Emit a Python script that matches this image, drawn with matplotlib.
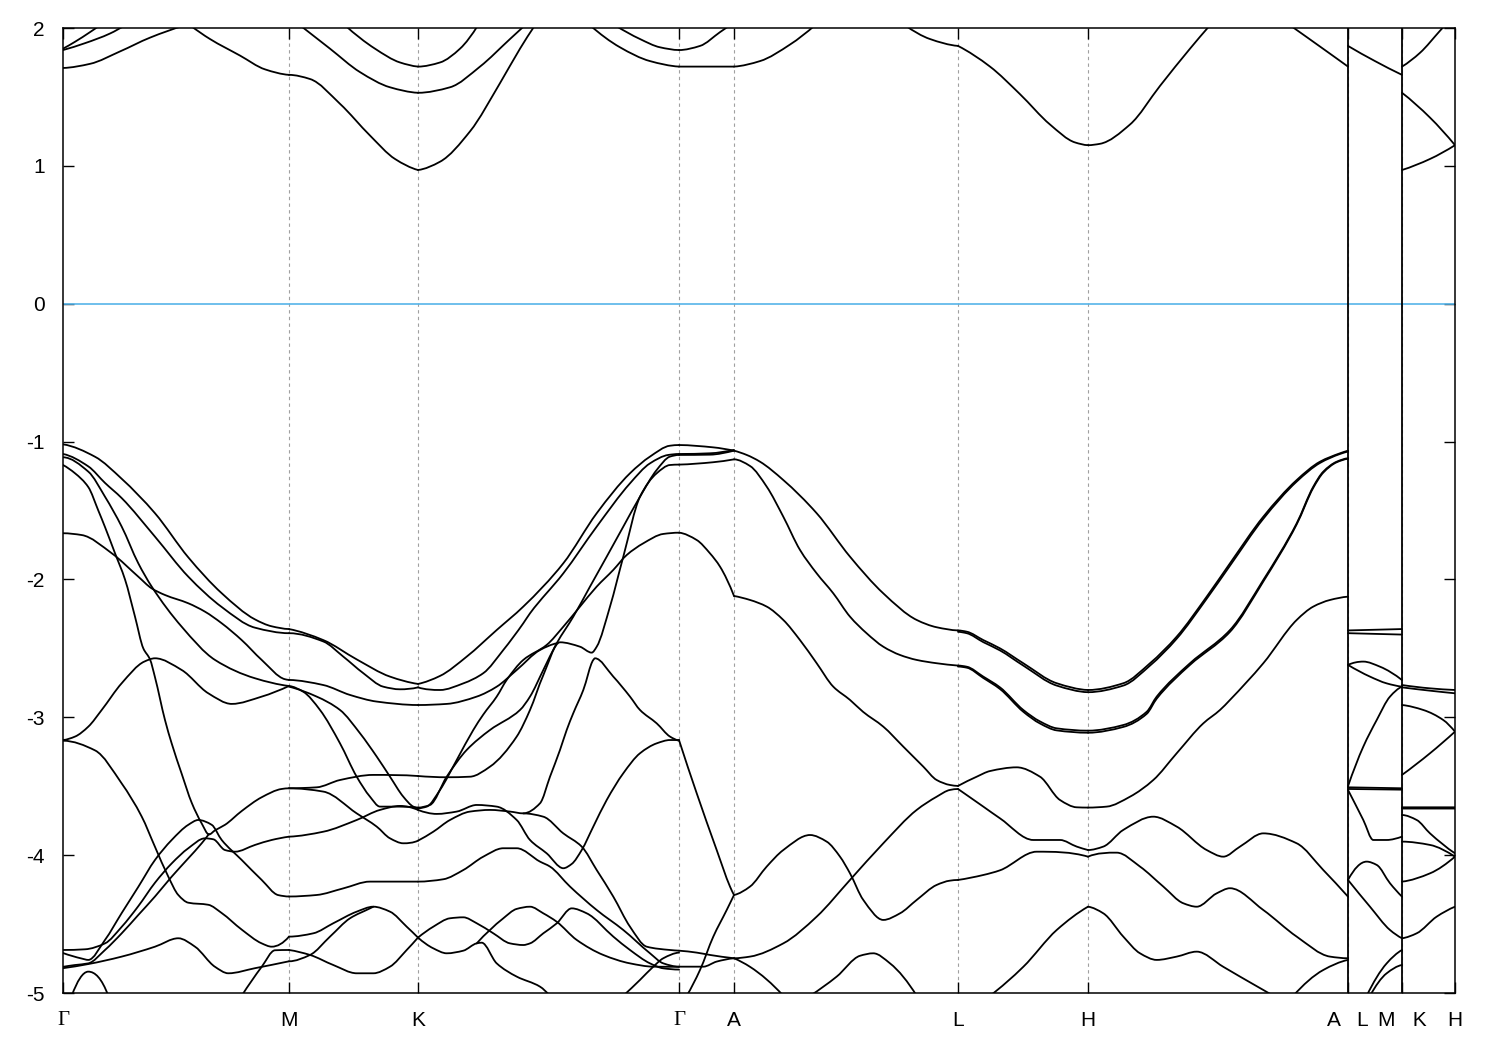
import numpy as np
import matplotlib
matplotlib.use("Agg")
import matplotlib.pyplot as plt
from matplotlib.path import Path
from matplotlib.patches import PathPatch

# ---------------- axis data ----------------
tick_k = [0, 226, 355, 616, 671, 895, 1025, 1285, 1339, 1392]
tick_labels = ["Γ", "M", "K", "Γ", "A", "L", "H", "A   L", "M   K", "H"]
jump_k = [1285, 1339]
e_ticks = [-5, -4, -3, -2, -1, 0, 1, 2]
e_tick_labels = ["-5", "-4", "-3", "-2", "-1", "0", "1", "2"]
fermi_level = 0.0

# ---------------- conduction bands (k, E) ----------------
c01 = [(0, 1.85), (12, 1.90), (27, 1.97), (37, 2.02)]
c02 = [(0, 1.84), (22, 1.89), (47, 1.96), (62, 2.02)]
c03 = [(0, 1.71), (27, 1.74), (57, 1.83), (87, 1.93), (122, 2.02)]
c04 = [(127, 2.02), (147, 1.92), (177, 1.80), (202, 1.70), (226, 1.66), (247, 1.63),
       (277, 1.45), (307, 1.22), (332, 1.05), (355, 0.97), (377, 1.03), (407, 1.25),
       (437, 1.60), (457, 1.85), (472, 2.02)]
c05 = [(237, 2.02), (267, 1.85), (297, 1.68), (327, 1.57), (355, 1.53), (387, 1.57),
       (417, 1.72), (447, 1.92), (462, 2.02)]
c06 = [(282, 2.02), (312, 1.85), (337, 1.75), (355, 1.72), (377, 1.75), (397, 1.85), (415, 2.02)]
c07 = [(527, 2.02), (557, 1.86), (587, 1.76), (616, 1.72), (671, 1.72), (697, 1.76),
       (727, 1.88), (752, 2.02)]
c08 = [(552, 2.02), (577, 1.92), (597, 1.86), (616, 1.84), (637, 1.87), (657, 1.97), (667, 2.02)]
c09 = [(842, 2.02), (867, 1.92), (895, 1.87), (927, 1.72), (957, 1.52), (987, 1.30),
       (1012, 1.17), (1025, 1.15), (1037, 1.16), (1067, 1.30), (1097, 1.58), (1127, 1.85),
       (1147, 2.02)]
c10 = [(1227, 2.02), (1260, 1.85), (1285, 1.72)]
c11 = [(1285, 1.87), (1312, 1.76), (1339, 1.66)]
c12 = [(1339, 0.97), (1367, 1.05), (1392, 1.15)]
c13 = [(1339, 1.53), (1367, 1.35), (1392, 1.15)]
c14 = [(1339, 1.72), (1357, 1.82), (1377, 1.98), (1382, 2.02)]

# ---------------- valence bands (k, E) ----------------
v01 = [(0, -1.02), (32, -1.11), (58.7, -1.27), (92, -1.52), (125.3, -1.84), (158.7, -2.10),
       (192, -2.29), (208.7, -2.34), (226, -2.36), (260.3, -2.44), (293.7, -2.58),
       (327, -2.705), (355, -2.758), (377, -2.70), (403.7, -2.56), (433.7, -2.367),
       (460.3, -2.197), (500.3, -1.883), (533.7, -1.52), (567, -1.23), (587, -1.109),
       (607, -1.03), (616, -1.025), (650.3, -1.042), (671, -1.066), (683.7, -1.097),
       (697, -1.146), (720.3, -1.279), (753.7, -1.52), (787, -1.835), (820.3, -2.101),
       (853.7, -2.294), (873.7, -2.347), (895, -2.37), (903.7, -2.379), (920.3, -2.44),
       (937, -2.50), (960.3, -2.608), (993.7, -2.753), (1025, -2.802), (1060.3, -2.753),
       (1087, -2.608), (1113.7, -2.415), (1143.7, -2.125), (1167, -1.883), (1200.3, -1.545),
       (1233.7, -1.279), (1257, -1.146), (1277, -1.085), (1285, -1.066)]
v01b = [(895, -2.38), (903.7, -2.39), (920.3, -2.455), (937, -2.515), (960.3, -2.625),
        (993.7, -2.77), (1025, -2.818), (1060.3, -2.77), (1087, -2.625), (1113.7, -2.43),
        (1143.7, -2.14), (1167, -1.90), (1200.3, -1.56), (1233.7, -1.29), (1257, -1.155),
        (1277, -1.09), (1285, -1.072)]
v02 = [(0, -1.09), (25.3, -1.18), (42, -1.30), (58.7, -1.41), (92, -1.69), (125.3, -1.98),
       (158.7, -2.20), (192, -2.35), (226, -2.39), (260.3, -2.45), (280.3, -2.56),
       (300.3, -2.68), (320.3, -2.778), (337, -2.797), (355, -2.783), (377, -2.802),
       (400.3, -2.754), (420.3, -2.68), (440.3, -2.512), (460.3, -2.318), (467, -2.246),
       (500.3, -1.956), (533.7, -1.617), (567, -1.303), (587, -1.158), (605.3, -1.097),
       (616, -1.09), (647, -1.085), (671, -1.061)]
v03 = [(0, -1.114), (25.3, -1.218), (42, -1.40), (58.7, -1.617), (75.3, -1.883),
       (88.7, -2.052), (118.7, -2.343), (152, -2.584), (192, -2.717), (226, -2.773),
       (240.3, -2.815), (257, -2.947), (277, -3.189), (293.7, -3.431), (307, -3.576),
       (317, -3.648), (337, -3.648), (355, -3.655), (367, -3.636), (383.7, -3.431),
       (403.7, -3.237), (427, -3.092), (457, -2.947), (467, -2.85), (480.3, -2.657),
       (493.7, -2.463), (510.3, -2.27), (527, -2.052), (543.7, -1.835), (560.3, -1.617),
       (577, -1.40), (593.7, -1.206), (607, -1.109), (616, -1.097), (647, -1.095), (671, -1.066)]
v04 = [(0, -1.17), (12, -1.23), (25.3, -1.33), (35.3, -1.50), (42, -1.62), (52, -1.81),
       (62, -2.00), (72, -2.27), (80.3, -2.50), (87, -2.58), (92, -2.71), (102, -3.02),
       (108.7, -3.19), (118.7, -3.41), (128.7, -3.62), (138.7, -3.77), (146, -3.85),
       (152, -3.82), (162, -3.78), (178.7, -3.68), (198.7, -3.58), (218.7, -3.52),
       (226, -3.515), (253.7, -3.508), (277, -3.455), (310.3, -3.418), (355, -3.426),
       (383.7, -3.435), (407, -3.431), (427, -3.358), (453.7, -3.14), (467, -2.947),
       (480, -2.70), (497, -2.456), (517, -2.488), (528.7, -2.531), (533.7, -2.488),
       (547, -2.197), (560.3, -1.835), (577, -1.40), (593.7, -1.23), (607, -1.17),
       (616, -1.167), (650, -1.15), (671, -1.129), (687, -1.177), (703.7, -1.327),
       (720.3, -1.545), (737, -1.786), (753.7, -1.956), (770.3, -2.101), (787, -2.27),
       (803.7, -2.391), (820.3, -2.488), (837, -2.548), (853.7, -2.584), (873.7, -2.608),
       (895, -2.625), (903.7, -2.633), (920.3, -2.705), (937, -2.783), (960.3, -2.947),
       (977, -3.03), (993.7, -3.08), (1025, -3.097), (1060.3, -3.056), (1083.7, -2.96),
       (1093.7, -2.85), (1127, -2.608), (1167, -2.367), (1200.3, -2.004), (1233.7, -1.593),
       (1250.3, -1.327), (1260.3, -1.218), (1273.7, -1.146), (1285, -1.121)]
v04b = [(895, -2.632), (903.7, -2.64), (920.3, -2.715), (937, -2.795), (960.3, -2.96),
        (977, -3.045), (993.7, -3.095), (1025, -3.112), (1060.3, -3.07), (1083.7, -2.975),
        (1093.7, -2.865), (1127, -2.62), (1167, -2.38), (1200.3, -2.015), (1233.7, -1.60),
        (1250.3, -1.335), (1260.3, -1.225), (1273.7, -1.15), (1285, -1.125)]
v05 = [(0, -1.665), (18.7, -1.678), (48.7, -1.81), (75.3, -1.98), (88.7, -2.065),
       (102, -2.113), (125.3, -2.173), (142, -2.234), (158.7, -2.318), (178.7, -2.44),
       (198.7, -2.584), (222, -2.724), (226, -2.729), (260.3, -2.766), (287, -2.838),
       (313.7, -2.886), (355, -2.911), (383.7, -2.903), (413.7, -2.85), (433.7, -2.778),
       (453.7, -2.657), (477, -2.512), (493.7, -2.463)]
v06 = [(226, -2.778), (253.7, -2.85), (277, -2.947), (297, -3.116), (313.7, -3.285),
       (327, -3.431), (340.3, -3.576), (350.3, -3.648), (355, -3.66), (363.7, -3.648),
       (377, -3.527), (393.7, -3.31), (410.3, -3.092), (420.3, -2.98), (433.7, -2.85),
       (443.7, -2.729), (460.3, -2.584), (483.7, -2.475), (500.3, -2.343), (517, -2.197),
       (533.7, -2.052), (550.3, -1.931), (563.7, -1.823), (580.3, -1.738), (600.3, -1.670),
       (616, -1.661), (633.7, -1.714), (647, -1.811), (657, -1.907), (671, -2.12),
       (687, -2.149), (703.7, -2.197), (720.3, -2.294), (737, -2.44), (753.7, -2.608),
       (770.3, -2.778), (787, -2.874), (800, -2.96), (820.3, -3.068), (840.3, -3.213),
       (860.3, -3.358), (873.7, -3.455), (887, -3.491), (895, -3.498), (913.7, -3.431),
       (927, -3.39), (953.7, -3.363), (977, -3.431), (997, -3.60), (1013.7, -3.653),
       (1025, -3.655), (1043.7, -3.648), (1067, -3.576), (1090.3, -3.455), (1113.7, -3.261),
       (1140.3, -3.044), (1157, -2.947), (1167, -2.874), (1200.3, -2.608), (1233.7, -2.294),
       (1250.3, -2.197), (1267, -2.149), (1285, -2.125)]
v07 = [(0, -3.165), (12, -3.14), (25.3, -3.068), (38.7, -2.947), (58.7, -2.753),
       (81.3, -2.596), (92, -2.572), (118.7, -2.657), (145.3, -2.826), (168.7, -2.903),
       (198.7, -2.85), (226, -2.773)]
v08 = [(0, -3.17), (32, -3.24), (58.7, -3.48), (78.7, -3.72), (92, -3.94), (105.3, -4.156),
       (115.3, -4.289), (125.3, -4.345), (145.3, -4.36), (158.7, -4.42), (178.7, -4.54),
       (198.7, -4.64), (208.7, -4.664), (226, -4.591), (250.3, -4.567), (270.3, -4.494),
       (293.7, -4.41), (310.3, -4.374), (327, -4.41), (343.7, -4.519), (355, -4.598),
       (370.3, -4.676), (383.7, -4.712), (400.3, -4.693), (413.7, -4.64), (418.7, -4.635),
       (433.7, -4.785), (453.7, -4.881), (477, -4.954), (487, -5.02)]
v09 = [(0, -4.71), (18.7, -4.75), (25.3, -4.76), (42, -4.615), (58.7, -4.42), (75.3, -4.23),
       (92, -4.035), (108.7, -3.89), (125.3, -3.78), (135.3, -3.745), (148.7, -3.78),
       (158.7, -3.89), (178.7, -4.035), (198.7, -4.18), (215.3, -4.29), (226, -4.30),
       (253.7, -4.289), (280.3, -4.241), (307, -4.192), (337, -4.192), (355, -4.192),
       (380.3, -4.175), (400.3, -4.108), (420.3, -4.011), (440.3, -3.95), (453.7, -3.95),
       (477, -4.047), (487, -4.083), (507, -4.228), (533.7, -4.398), (560.3, -4.543),
       (587, -4.712), (600.3, -4.785), (616, -4.809), (640.3, -4.809), (653.7, -4.772),
       (671, -4.748), (687, -4.81), (720.3, -5.02)]
v10 = [(0, -4.688), (22, -4.683), (42, -4.64), (58.7, -4.52), (75.3, -4.37), (92, -4.20),
       (108.7, -4.06), (125.3, -3.95), (142, -3.878), (150.3, -3.885), (162, -3.963),
       (172, -3.975), (192, -3.926), (208.7, -3.89), (226, -3.866), (260.3, -3.83),
       (293.7, -3.745), (317, -3.672), (337, -3.643), (355, -3.672), (373.7, -3.701),
       (393.7, -3.684), (413.7, -3.636), (433.7, -3.648), (453.7, -3.745), (467, -3.89),
       (483.7, -3.987), (500.3, -4.095), (508.7, -4.064), (518.7, -3.963), (530.3, -3.793),
       (543.7, -3.60), (560.3, -3.406), (577, -3.261), (593.7, -3.189), (607, -3.165),
       (616, -3.165), (633.7, -3.551), (653.7, -3.963), (667, -4.228), (671, -4.289),
       (687, -4.228), (703.7, -4.083), (720.3, -3.963), (747, -3.854), (763.7, -3.902),
       (777, -4.011), (787, -4.132), (800.3, -4.325), (820.3, -4.47), (837, -4.422),
       (853.7, -4.325), (873.7, -4.216), (887, -4.185), (895, -4.18), (920.3, -4.144),
       (937, -4.11), (973.7, -3.975), (1025, -4.011), (1053.7, -3.982), (1077, -4.083),
       (1100.3, -4.228), (1120.3, -4.349), (1133.7, -4.374), (1153.7, -4.277), (1167, -4.24),
       (1200.3, -4.398), (1233.7, -4.591), (1267, -4.736), (1285, -4.748)]
v11 = [(0, -4.81), (12, -4.797), (25.3, -4.785), (42, -4.688), (58.7, -4.567), (75.3, -4.434),
       (92, -4.30), (108.7, -4.156), (125.3, -4.023), (138.7, -3.914), (146, -3.846)]
v12 = [(0, -4.82), (25.3, -4.79), (58.7, -4.736), (92, -4.664), (115.3, -4.603), (132, -4.664),
       (152, -4.81), (165.3, -4.857), (192, -4.82), (226, -4.77), (247, -4.724), (267, -4.591),
       (287, -4.458), (307, -4.386), (310.3, -4.374)]
v13 = [(8.7, -5.02), (25.3, -4.845), (45.3, -5.02)]
v14 = [(178.7, -5.02), (198.7, -4.81), (212, -4.69), (226, -4.688), (247, -4.724),
       (270.3, -4.797), (293.7, -4.857), (310.3, -4.857), (327, -4.809), (343.7, -4.688),
       (355, -4.598), (370.3, -4.519), (387, -4.458), (400.3, -4.451), (413.7, -4.494),
       (430.3, -4.567), (447, -4.64), (460.3, -4.652), (467, -4.64), (480.3, -4.567),
       (493.7, -4.495), (508.7, -4.386), (523.7, -4.422), (550.3, -4.591), (567, -4.688),
       (587, -4.785), (600.3, -4.821), (616, -4.83)]
v15 = [(226, -3.515), (260.3, -3.539), (293.7, -3.697), (313.7, -3.793), (327, -3.878),
       (340.3, -3.914), (355, -3.895), (370.3, -3.83), (387, -3.745), (407, -3.684),
       (427, -3.672), (447, -3.684), (460.3, -3.697), (477, -3.624), (487, -3.431),
       (497, -3.237), (503.7, -3.092), (510.3, -2.97), (520.3, -2.802), (530.3, -2.584),
       (532, -2.572), (550.3, -2.705), (567, -2.85), (577, -2.947), (593.7, -3.044),
       (607, -3.14), (616, -3.17)]
v16 = [(460.3, -3.697), (480.3, -3.721), (500.3, -3.842), (518.7, -3.938), (533.7, -4.108),
       (550.3, -4.301), (567, -4.519), (583.7, -4.664), (607, -4.688), (616, -4.693),
       (633.7, -4.707), (647, -4.724), (671, -4.748), (687, -4.736), (720.3, -4.64),
       (753.7, -4.446), (787, -4.18), (820.3, -3.914), (853.7, -3.672), (873.7, -3.576),
       (887, -3.527), (895, -3.52), (920.3, -3.648), (937, -3.733), (970.3, -3.89),
       (997, -3.89), (1013.7, -3.938), (1025, -3.963), (1040.3, -3.938), (1060.3, -3.817),
       (1090.3, -3.721), (1113.7, -3.793), (1143.7, -3.963), (1160.3, -4.011), (1177, -3.938),
       (1200.3, -3.842), (1233.7, -3.914), (1260.3, -4.108), (1285, -4.301)]
v17 = [(560.3, -5.02), (577, -4.905), (590.3, -4.809), (600.3, -4.748), (616, -4.707)]
v18 = [(623.7, -5.02), (637, -4.833), (650.3, -4.591), (663.7, -4.398), (671, -4.289)]
v19 = [(747, -5.02), (773.7, -4.881), (797, -4.73), (810.3, -4.712), (827, -4.785), (853.7, -5.02)]
v20 = [(927, -5.02), (960.3, -4.81), (993.7, -4.543), (1025, -4.374), (1040.3, -4.422),
       (1060.3, -4.591), (1077, -4.712), (1093.7, -4.76), (1113.7, -4.736), (1133.7, -4.70),
       (1160.3, -4.81), (1177, -4.881), (1200.3, -4.978), (1210.3, -5.02)]
v21 = [(1230.3, -5.02), (1260.3, -4.833), (1285, -4.76)]
v22 = [(413.7, -4.64), (440, -4.46), (453.7, -4.39), (467, -4.374), (480.3, -4.422),
       (493.7, -4.483), (513.7, -4.615), (540.3, -4.724), (567, -4.785), (590.3, -4.809),
       (616, -4.81)]

# L-M segment
lm01 = [(1285, -2.37), (1339, -2.36)]
lm02 = [(1285, -2.39), (1339, -2.40)]
lm03 = [(1285, -2.62), (1300.3, -2.596), (1317, -2.633), (1339, -2.73)]
lm04 = [(1285, -2.62), (1307, -2.705), (1323.7, -2.754), (1339, -2.778)]
lm05 = [(1285, -3.50), (1300.3, -3.213), (1313.7, -3.02), (1327, -2.85), (1339, -2.778)]
lm06 = [(1285, -3.508), (1339, -3.515)]
lm07 = [(1285, -3.52), (1339, -3.525)]
lm08 = [(1285, -3.527), (1300.3, -3.745), (1310.3, -3.89), (1323.7, -3.89), (1339, -3.866)]
lm09 = [(1285, -4.18), (1303.7, -4.047), (1313.7, -4.071), (1327, -4.204), (1339, -4.301)]
lm10 = [(1285, -4.18), (1307, -4.374), (1327, -4.543), (1339, -4.603)]
lm11 = [(1303.7, -5.02), (1323.7, -4.785), (1339, -4.688)]
lm12 = [(1307, -5.02), (1323.7, -4.857), (1339, -4.797)]

# K-H segment
kh01 = [(1339, -2.766), (1367, -2.79), (1392, -2.802)]
kh02 = [(1339, -2.783), (1367, -2.807), (1392, -2.826)]
kh03 = [(1339, -2.911), (1360.3, -2.947), (1380.3, -3.02), (1392, -3.104)]
kh04 = [(1339, -3.418), (1367, -3.261), (1392, -3.104)]
kh05 = [(1339, -3.653), (1392, -3.653)]
kh06 = [(1339, -3.662), (1392, -3.662)]
kh07 = [(1339, -3.709), (1353.7, -3.745), (1367, -3.842), (1392, -3.987)]
kh08 = [(1339, -3.902), (1367, -3.926), (1392, -4.011)]
kh09 = [(1339, -4.192), (1367, -4.132), (1392, -4.011)]
kh10 = [(1339, -4.603), (1353.7, -4.567), (1373.7, -4.446), (1392, -4.374)]

curves = [c01, c02, c03, c04, c05, c06, c07, c08, c09, c10, c11, c12, c13, c14,
          v01, v01b, v02, v03, v04, v04b, v05, v06, v07, v08, v09, v10, v11, v12, v13,
          v14, v15, v16, v17, v18, v19, v20, v21, v22,
          lm01, lm02, lm03, lm04, lm05, lm06, lm07, lm08, lm09, lm10, lm11, lm12,
          kh01, kh02, kh03, kh04, kh05, kh06, kh07, kh08, kh09, kh10]


# ---------------- smooth rendering helpers ----------------
def pchip_slopes(x, y):
    n = len(x)
    h = np.diff(x)
    d = np.diff(y) / h
    m = np.zeros(n)
    if n == 2:
        m[:] = d[0]
        return m
    for i in range(1, n - 1):
        if d[i - 1] * d[i] <= 0:
            m[i] = 0.0
        else:
            w1 = 2 * h[i] + h[i - 1]
            w2 = h[i] + 2 * h[i - 1]
            m[i] = (w1 + w2) / (w1 / d[i - 1] + w2 / d[i])

    def edge(h0, h1, d0, d1):
        s = ((2 * h0 + h1) * d0 - h0 * d1) / (h0 + h1)
        if np.sign(s) != np.sign(d0):
            s = 0.0
        elif np.sign(d0) != np.sign(d1) and abs(s) > abs(3 * d0):
            s = 3 * d0
        return s

    m[0] = edge(h[0], h[1], d[0], d[1])
    m[-1] = edge(h[-1], h[-2], d[-1], d[-2])
    return m


def split_at_symmetry_points(pts):
    pieces, cur = [], [pts[0]]
    for p in pts[1:]:
        cur.append(p)
        if any(abs(p[0] - t) < 0.5 for t in tick_k[1:-1]) and p is not pts[-1]:
            pieces.append(cur)
            cur = [p]
    if len(cur) > 1:
        pieces.append(cur)
    return pieces


def smooth_path(pts):
    x = np.array([p[0] for p in pts], float)
    y = np.array([p[1] for p in pts], float)
    m = pchip_slopes(x, y)
    verts = [(x[0], y[0])]
    codes = [Path.MOVETO]
    for i in range(len(x) - 1):
        hh = x[i + 1] - x[i]
        verts += [(x[i] + hh / 3, y[i] + m[i] * hh / 3),
                  (x[i + 1] - hh / 3, y[i + 1] - m[i + 1] * hh / 3),
                  (x[i + 1], y[i + 1])]
        codes += [Path.CURVE4] * 3
    return Path(verts, codes)


# ---------------- drawing ----------------
plt.rcParams['font.family'] = ['Liberation Sans', 'DejaVu Sans']
fig = plt.figure(figsize=(15, 10.5), dpi=100)
ax = fig.add_axes([63 / 1500, 1 - 993 / 1050, 1392 / 1500, 965 / 1050])

for kk in tick_k[1:-1]:
    ax.axvline(kk, color='#a0a0a0', lw=0.8, dashes=(3, 3), zorder=1)
for kk in jump_k:
    ax.axvline(kk, color='black', lw=1.3, zorder=3)
ax.axhline(fermi_level, color='#56b4e9', lw=1.2, zorder=2)

for cv in curves:
    for piece in split_at_symmetry_points(cv):
        patch = PathPatch(smooth_path(piece), facecolor='none', edgecolor='black',
                          lw=1.3, capstyle='round', joinstyle='round', zorder=4)
        ax.add_patch(patch)

ax.set_xlim(tick_k[0], tick_k[-1])
ax.set_ylim(-5, 2)
ax.set_yticks(e_ticks)
ax.set_yticklabels(e_tick_labels, fontsize=15)
ax.set_xticks(tick_k)
ax.set_xticklabels(tick_labels, fontsize=15)
for lab in ax.get_xticklabels():
    if lab.get_text() == "Γ":
        lab.set_family(['Liberation Serif', 'DejaVu Serif'])
ax.tick_params(axis='both', direction='in', length=8, width=1.0,
               top=True, right=True)
ax.tick_params(axis='y', pad=13)
ax.tick_params(axis='x', pad=13)
for sp in ax.spines.values():
    sp.set_linewidth(1.1)

fig.savefig("out.png", dpi=100)
